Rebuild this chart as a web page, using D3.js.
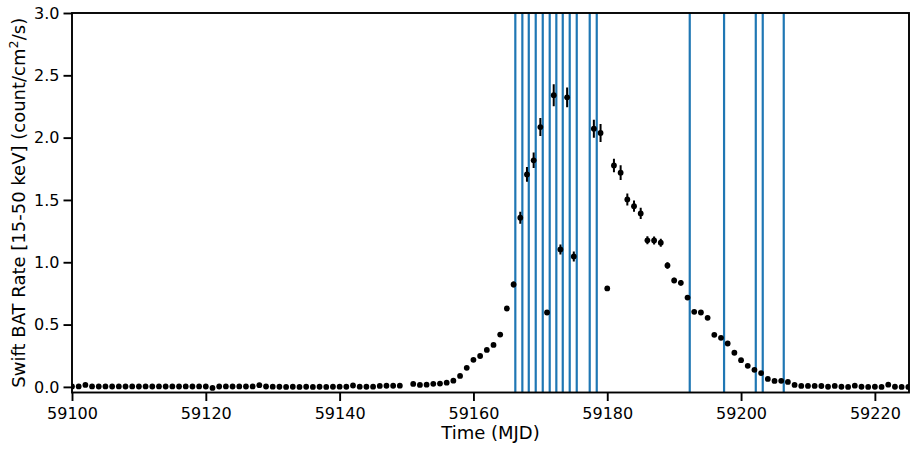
<!DOCTYPE html>
<html>
<head>
<meta charset="utf-8">
<script src="https://cdn.jsdelivr.net/npm/d3@7"></script>
<style>
  html, body { margin: 0; padding: 0; background: #fff; }
  svg { display: block; }
  text { font-family: "DejaVu Sans", sans-serif; fill: #000; }
</style>
</head>
<body>
<svg id="chart" width="915" height="450"></svg>
<script>
// ---- data ----
const mjd = [
  59100,59101,59102,59103,59104,59105,59106,59107,59108,59109,
  59110,59111,59112,59113,59114,59115,59116,59117,59118,59119,
  59120,59121,59122,59123,59124,59125,59126,59127,59128,59129,
  59130,59131,59132,59133,59134,59135,59136,59137,59138,59139,
  59140,59141,59142,59143,59144,59145,59146,59147,59148,59149,
  59151,59152,59153,59154,59155,59156,59157,59158,59159,59160,
  59161,59162,59163,59164,59165,59166,59167,59168,59169,59170,
  59171,59172,59173,59174,59175,
  59178,59179,59180,59181,59182,59183,59184,59185,59186,59187,
  59188,59189,59190,59191,59192,59193,59194,59195,59196,59197,
  59198,59199,59200,59201,59202,59203,59204,59205,59206,59207,
  59208,59209,59210,59211,59212,59213,59214,59215,59216,59217,
  59218,59219,59220,59221,59222,59223,59224,59225
];
const rate = [
  0.003,0.004,0.016,0.004,0.003,0.004,0.003,0.004,0.003,0.004,
  0.003,0.004,0.003,0.004,0.003,0.004,0.003,0.004,0.003,0.004,
  0.003,-0.008,0.003,0.004,0.003,0.004,0.003,0.004,0.014,0.003,
  0.002,0.001,0.000,0.001,0.000,0.001,0.000,0.001,0.000,0.001,
  0.002,0.001,0.011,0.002,0.001,0.002,0.008,0.009,0.009,0.010,
  0.024,0.016,0.018,0.025,0.027,0.034,0.050,0.088,0.153,0.217,
  0.248,0.297,0.337,0.420,0.629,0.822,1.357,1.705,1.818,2.085,
  0.597,2.340,1.103,2.323,1.047,
  2.072,2.037,0.790,1.777,1.719,1.504,1.450,1.392,1.176,1.175,
  1.157,0.974,0.854,0.835,0.717,0.602,0.597,0.554,0.418,0.394,
  0.348,0.274,0.214,0.169,0.137,0.111,0.064,0.048,0.049,0.040,
  0.016,0.008,0.008,0.008,0.007,0.001,0.008,0.001,0.000,0.010,
  0.001,0.000,0.001,0.000,0.018,0.001,0.000,0.000
];
const rateErr = [
  0.005,0.005,0.005,0.005,0.005,0.005,0.005,0.005,0.005,0.005,
  0.005,0.005,0.005,0.005,0.005,0.005,0.005,0.005,0.005,0.005,
  0.005,0.005,0.005,0.005,0.005,0.005,0.005,0.005,0.005,0.005,
  0.005,0.005,0.005,0.005,0.005,0.005,0.005,0.005,0.005,0.005,
  0.005,0.005,0.005,0.005,0.005,0.005,0.005,0.005,0.005,0.005,
  0.006,0.006,0.006,0.006,0.006,0.007,0.008,0.009,0.010,0.011,
  0.011,0.012,0.012,0.014,0.018,0.024,0.048,0.060,0.062,0.072,
  0.020,0.088,0.040,0.080,0.040,
  0.072,0.072,0.020,0.054,0.059,0.048,0.045,0.045,0.032,0.032,
  0.032,0.027,0.022,0.022,0.016,0.012,0.012,0.012,0.012,0.012,
  0.012,0.010,0.009,0.009,0.009,0.008,0.008,0.007,0.007,0.007,
  0.006,0.006,0.006,0.006,0.006,0.006,0.006,0.006,0.006,0.006,
  0.006,0.006,0.006,0.006,0.006,0.006,0.006,0.006
];
const markerTimes = [
  59166.26,59167.31,59168.27,59169.31,59170.36,59171.40,59172.39,59173.35,
  59174.39,59175.44,59177.38,59178.43,59192.33,59197.46,59202.20,59203.24,59206.38
];
const xTicks = [59100,59120,59140,59160,59180,59200,59220];
const yTicks = [0.0,0.5,1.0,1.5,2.0,2.5,3.0];
const xDomain = [59100, 59225.1];
const yDomain = [-0.045, 3.0];
const xLabel = "Time (MJD)";

// ---- layout ----
const padL = 72, padR = 909, padT = 13, padB = 392.5;
const svg = d3.select("#chart");
const x = d3.scaleLinear().domain(xDomain).range([padL, padR]);
const y = d3.scaleLinear().domain(yDomain).range([padB, padT]);

svg.append("defs").append("clipPath").attr("id", "plotclip")
  .append("rect").attr("x", padL).attr("y", padT)
  .attr("width", padR - padL).attr("height", padB - padT);

const plot = svg.append("g").attr("clip-path", "url(#plotclip)");

// vertical marker lines
plot.selectAll("line.vl").data(markerTimes).enter().append("line")
  .attr("class", "vl")
  .attr("x1", d => x(d)).attr("x2", d => x(d))
  .attr("y1", padT).attr("y2", padB)
  .attr("stroke", "#1f77b4").attr("stroke-width", 2.2);

const pts = mjd.map((t, i) => ({t, v: rate[i], e: rateErr[i]}));

// error bars
plot.selectAll("line.err").data(pts).enter().append("line")
  .attr("class", "err")
  .attr("x1", d => x(d.t)).attr("x2", d => x(d.t))
  .attr("y1", d => y(d.v - d.e)).attr("y2", d => y(d.v + d.e))
  .attr("stroke", "#000").attr("stroke-width", 2);

// points
plot.selectAll("circle.pt").data(pts).enter().append("circle")
  .attr("class", "pt")
  .attr("cx", d => x(d.t)).attr("cy", d => y(d.v))
  .attr("r", 2.9).attr("fill", "#000");

// axes
const xAxis = d3.axisBottom(x).tickValues(xTicks).tickFormat(d3.format("d"))
  .tickSize(8.5).tickPadding(5);
const yAxis = d3.axisLeft(y).tickValues(yTicks).tickFormat(d3.format(".1f"))
  .tickSize(8.5).tickPadding(4);

const gx = svg.append("g").attr("transform", `translate(0,${padB})`).call(xAxis);
const gy = svg.append("g").attr("transform", `translate(${padL},0)`).call(yAxis);
[gx, gy].forEach(g => {
  g.select(".domain").remove();
  g.selectAll(".tick line").attr("stroke", "#000").attr("stroke-width", 1.9);
  g.selectAll(".tick text").attr("font-size", "16px")
    .attr("font-family", "DejaVu Sans").attr("fill", "#000");
});
gx.selectAll(".tick text").attr("dy", null).attr("y", 26);

// frame
svg.append("rect").attr("x", padL).attr("y", padT)
  .attr("width", padR - padL).attr("height", padB - padT)
  .attr("fill", "none").attr("stroke", "#000").attr("stroke-width", 1.9);

// labels
svg.append("text").attr("x", (padL + padR) / 2).attr("y", 438.5)
  .attr("text-anchor", "middle").attr("font-size", "18px").text(xLabel);

const yl = svg.append("text")
  .attr("transform", `translate(25,${(padT + padB) / 2}) rotate(-90)`)
  .attr("text-anchor", "middle").attr("font-size", "18px");
yl.append("tspan").text("Swift BAT Rate [15-50 keV] (count/cm");
yl.append("tspan").attr("font-size", "12.8px").attr("dy", "-7").text("2");
yl.append("tspan").attr("dy", "7").text("/s)");
</script>
</body>
</html>
